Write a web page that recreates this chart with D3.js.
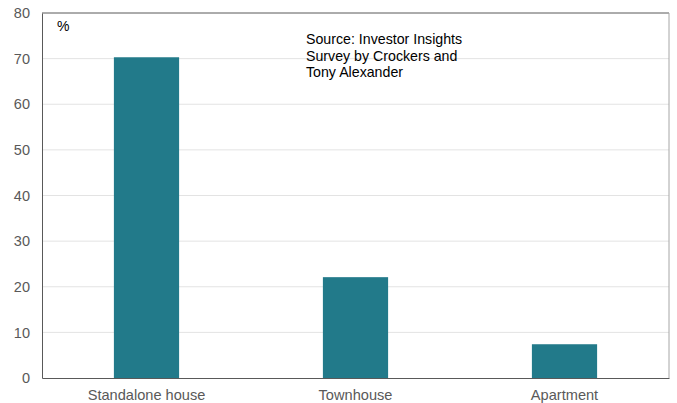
<!DOCTYPE html>
<html><head><meta charset="utf-8">
<script src="https://cdn.jsdelivr.net/npm/d3@7"></script>
<style>body{margin:0;background:#fff}svg{display:block}</style>
</head><body>
<script>
const categories = ["Standalone house", "Townhouse", "Apartment"];
const values = [70.3, 22.1, 7.4];
const yTicks = [0, 10, 20, 30, 40, 50, 60, 70, 80];
const sourceLines = ["Source: Investor Insights", "Survey by Crockers and", "Tony Alexander"];

const W = 677, H = 403;
const m = {l: 42, r: 8, t: 13, b: 25};
const svg = d3.select("body").append("svg").attr("width", W).attr("height", H)
  .style("font-family", "'Liberation Sans', Arial, sans-serif");

const x = d3.scaleBand().domain(categories).range([m.l, W - m.r]).padding(0);
const y = d3.scaleLinear().domain([0, 80]).range([H - m.b, m.t]);

// gridlines
svg.append("g").selectAll("line").data(yTicks.filter(d => d > 0 && d < 80)).join("line")
  .attr("x1", m.l).attr("x2", W - m.r)
  .attr("y1", d => y(d)).attr("y2", d => y(d))
  .attr("stroke", "#e3e3e3").attr("stroke-width", 1);

// bars
const bw = x.bandwidth() * 0.312;
svg.append("g").selectAll("rect").data(values).join("rect")
  .attr("x", (d, i) => x(categories[i]) + x.bandwidth() / 2 - bw / 2)
  .attr("width", bw)
  .attr("y", d => y(d))
  .attr("height", d => y(0) - y(d))
  .attr("fill", "#227a8a");

// frame
svg.append("line").attr("x1", m.l).attr("x2", W - m.r).attr("y1", m.t).attr("y2", m.t).attr("stroke", "#595959");
svg.append("line").attr("x1", W - m.r).attr("x2", W - m.r).attr("y1", m.t).attr("y2", H - m.b).attr("stroke", "#a6a6a6");

// axes
const ya = svg.append("g").attr("transform", `translate(${m.l},0)`)
  .call(d3.axisLeft(y).tickValues(yTicks).tickSize(0).tickPadding(12));
ya.select(".domain").attr("stroke", "#595959");
ya.selectAll("text").attr("fill", "#595959").style("font-size", "14.5px").style("font-family", "'Liberation Sans', Arial, sans-serif");

const xa = svg.append("g").attr("transform", `translate(0,${H - m.b})`)
  .call(d3.axisBottom(x).tickSize(0).tickPadding(12));
xa.select(".domain").attr("stroke", "#595959");
xa.selectAll("text").attr("fill", "#595959").style("font-size", "14.6px").style("font-family", "'Liberation Sans', Arial, sans-serif");

// % label
svg.append("text").attr("x", 57).attr("y", 31).text("%")
  .attr("fill", "#000").style("font-size", "14px");

// source
svg.append("text").attr("x", 306).attr("y", 44)
  .style("font-size", "14.2px").attr("fill", "#000")
  .selectAll("tspan").data(sourceLines).join("tspan")
  .attr("x", 306).attr("dy", (d, i) => i === 0 ? 0 : 16.5).text(d => d);
</script>
</body></html>
